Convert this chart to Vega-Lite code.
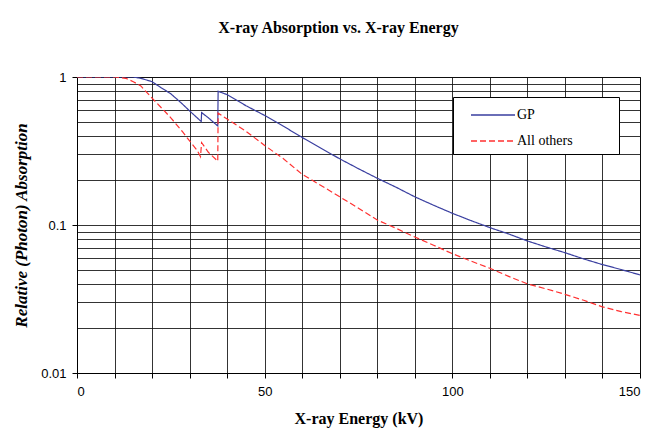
{
  "$schema": "https://vega.github.io/schema/vega-lite/v6.json",
  "width": 563,
  "height": 296,
  "autosize": {"type": "none"},
  "padding": {"left": 77, "top": 77, "right": 11, "bottom": 62},
  "background": "white",
  "title": {
    "text": "X-ray Absorption vs. X-ray Energy",
    "font": "Liberation Serif",
    "fontSize": 16,
    "fontWeight": "bold",
    "color": "black",
    "anchor": "middle",
    "offset": 35,
    "dx": -20
  },
  "data": {
    "values": [
      {"series": "GP", "kv": 0, "abs": 1},
      {"series": "GP", "kv": 5, "abs": 1},
      {"series": "GP", "kv": 10, "abs": 1},
      {"series": "GP", "kv": 15, "abs": 1},
      {"series": "GP", "kv": 17, "abs": 0.98},
      {"series": "GP", "kv": 20, "abs": 0.93},
      {"series": "GP", "kv": 22, "abs": 0.86},
      {"series": "GP", "kv": 25, "abs": 0.77},
      {"series": "GP", "kv": 28, "abs": 0.66},
      {"series": "GP", "kv": 30, "abs": 0.59},
      {"series": "GP", "kv": 33.1, "abs": 0.5},
      {"series": "GP", "kv": 33.2, "abs": 0.575},
      {"series": "GP", "kv": 35, "abs": 0.53},
      {"series": "GP", "kv": 37.5, "abs": 0.467},
      {"series": "GP", "kv": 37.6, "abs": 0.8},
      {"series": "GP", "kv": 40, "abs": 0.76},
      {"series": "GP", "kv": 45, "abs": 0.64},
      {"series": "GP", "kv": 50, "abs": 0.55},
      {"series": "GP", "kv": 55, "abs": 0.465},
      {"series": "GP", "kv": 60, "abs": 0.39},
      {"series": "GP", "kv": 65, "abs": 0.33},
      {"series": "GP", "kv": 70, "abs": 0.28},
      {"series": "GP", "kv": 75, "abs": 0.24},
      {"series": "GP", "kv": 80, "abs": 0.207},
      {"series": "GP", "kv": 85, "abs": 0.18},
      {"series": "GP", "kv": 90, "abs": 0.155},
      {"series": "GP", "kv": 95, "abs": 0.136},
      {"series": "GP", "kv": 100, "abs": 0.12},
      {"series": "GP", "kv": 105, "abs": 0.107},
      {"series": "GP", "kv": 110, "abs": 0.096},
      {"series": "GP", "kv": 115, "abs": 0.087},
      {"series": "GP", "kv": 120, "abs": 0.078},
      {"series": "GP", "kv": 125, "abs": 0.071},
      {"series": "GP", "kv": 130, "abs": 0.065},
      {"series": "GP", "kv": 135, "abs": 0.059},
      {"series": "GP", "kv": 140, "abs": 0.054},
      {"series": "GP", "kv": 145, "abs": 0.05},
      {"series": "GP", "kv": 150, "abs": 0.046},
      {"series": "All others", "kv": 0, "abs": 1},
      {"series": "All others", "kv": 5, "abs": 1},
      {"series": "All others", "kv": 10, "abs": 1},
      {"series": "All others", "kv": 13, "abs": 0.98},
      {"series": "All others", "kv": 15, "abs": 0.93},
      {"series": "All others", "kv": 17, "abs": 0.87},
      {"series": "All others", "kv": 20, "abs": 0.72},
      {"series": "All others", "kv": 23, "abs": 0.6},
      {"series": "All others", "kv": 25, "abs": 0.53},
      {"series": "All others", "kv": 28, "abs": 0.43},
      {"series": "All others", "kv": 30, "abs": 0.37},
      {"series": "All others", "kv": 32, "abs": 0.32},
      {"series": "All others", "kv": 32.9, "abs": 0.29},
      {"series": "All others", "kv": 33.2, "abs": 0.36},
      {"series": "All others", "kv": 35, "abs": 0.31},
      {"series": "All others", "kv": 37.5, "abs": 0.27},
      {"series": "All others", "kv": 37.6, "abs": 0.57},
      {"series": "All others", "kv": 40, "abs": 0.52},
      {"series": "All others", "kv": 45, "abs": 0.43},
      {"series": "All others", "kv": 50, "abs": 0.345},
      {"series": "All others", "kv": 55, "abs": 0.28},
      {"series": "All others", "kv": 60, "abs": 0.22},
      {"series": "All others", "kv": 65, "abs": 0.185},
      {"series": "All others", "kv": 70, "abs": 0.155},
      {"series": "All others", "kv": 75, "abs": 0.13},
      {"series": "All others", "kv": 80, "abs": 0.108},
      {"series": "All others", "kv": 85, "abs": 0.095},
      {"series": "All others", "kv": 90, "abs": 0.083},
      {"series": "All others", "kv": 95, "abs": 0.073},
      {"series": "All others", "kv": 100, "abs": 0.064},
      {"series": "All others", "kv": 105, "abs": 0.057},
      {"series": "All others", "kv": 110, "abs": 0.051},
      {"series": "All others", "kv": 115, "abs": 0.045},
      {"series": "All others", "kv": 120, "abs": 0.04},
      {"series": "All others", "kv": 125, "abs": 0.037},
      {"series": "All others", "kv": 130, "abs": 0.034},
      {"series": "All others", "kv": 135, "abs": 0.031},
      {"series": "All others", "kv": 140, "abs": 0.028},
      {"series": "All others", "kv": 145, "abs": 0.026},
      {"series": "All others", "kv": 150, "abs": 0.0245}
    ]
  },
  "mark": {"type": "line", "strokeWidth": 1.2, "clip": true},
  "encoding": {
    "x": {
      "field": "kv",
      "type": "quantitative",
      "scale": {"domain": [0, 150], "nice": false},
      "axis": {
        "title": "X-ray Energy (kV)",
        "values": [0, 10, 20, 30, 40, 50, 60, 70, 80, 90, 100, 110, 120, 130, 140, 150],
        "labelExpr": "datum.value % 50 === 0 ? datum.label : ''",
        "grid": true,
        "gridColor": "#111",
        "gridOpacity": 0.85,
        "domainColor": "black",
        "tickColor": "black",
        "tickSize": 5,
        "labelPadding": 7,
        "labelFont": "Liberation Sans",
        "labelFontSize": 13,
        "labelColor": "black",
        "titleFont": "Liberation Serif",
        "titleFontSize": 16,
        "titleFontWeight": "bold",
        "titleColor": "black",
        "titlePadding": 12
      }
    },
    "y": {
      "field": "abs",
      "type": "quantitative",
      "scale": {"type": "log", "domain": [0.01, 1], "nice": false},
      "axis": {
        "title": "Relative (Photon) Absorption",
        "values": [0.01, 0.02, 0.03, 0.04, 0.05, 0.06, 0.07, 0.08, 0.09, 0.1, 0.2, 0.3, 0.4, 0.5, 0.6, 0.7, 0.8, 0.9, 1],
        "labelExpr": "(datum.value === 0.01 || datum.value === 0.1 || datum.value === 1) ? toString(datum.value) : ''",
        "tickOpacity": {"condition": {"test": "datum.value === 0.01 || datum.value === 0.1 || datum.value === 1", "value": 1}, "value": 0},
        "grid": true,
        "gridColor": "#111",
        "gridOpacity": 0.85,
        "domainColor": "black",
        "tickColor": "black",
        "tickSize": 5,
        "labelPadding": 6,
        "labelFont": "Liberation Sans",
        "labelFontSize": 13,
        "labelColor": "black",
        "titleFont": "Liberation Serif",
        "titleFontSize": 17,
        "titleFontWeight": "bold",
        "titleFontStyle": "italic",
        "titleColor": "black",
        "titlePadding": 10
      }
    },
    "color": {
      "field": "series",
      "type": "nominal",
      "scale": {"domain": ["GP", "All others"], "range": ["#3a3fa0", "#ff3030"]},
      "legend": {
        "title": null,
        "orient": "none",
        "legendX": 376,
        "legendY": 20,
        "strokeColor": "black",
        "fillColor": "white",
        "padding": 6,
        "symbolType": "M0,0H4",
        "symbolSize": 484,
        "symbolStrokeWidth": 1.5,
        "rowPadding": 7,
        "labelFont": "Liberation Serif",
        "labelFontSize": 14,
        "labelColor": "black",
        "labelLimit": 400,
        "labelOffset": 34,
        "labelExpr": "datum.label + '\u2800\u2800\u2800\u2800'"
      }
    },
    "strokeDash": {
      "field": "series",
      "type": "nominal",
      "scale": {"domain": ["GP", "All others"], "range": [[1, 0], [6, 3]]},
      "legend": {
        "title": null,
        "orient": "none",
        "legendX": 376,
        "legendY": 20,
        "strokeColor": "black",
        "fillColor": "white",
        "padding": 6,
        "symbolType": "M0,0H4",
        "symbolSize": 484,
        "symbolStrokeWidth": 1.5,
        "rowPadding": 7,
        "labelFont": "Liberation Serif",
        "labelFontSize": 14,
        "labelColor": "black",
        "labelLimit": 400,
        "labelOffset": 34,
        "labelExpr": "datum.label + '\u2800\u2800\u2800\u2800'"
      }
    }
  },
  "config": {
    "view": {"stroke": "black", "strokeWidth": 1}
  }
}
